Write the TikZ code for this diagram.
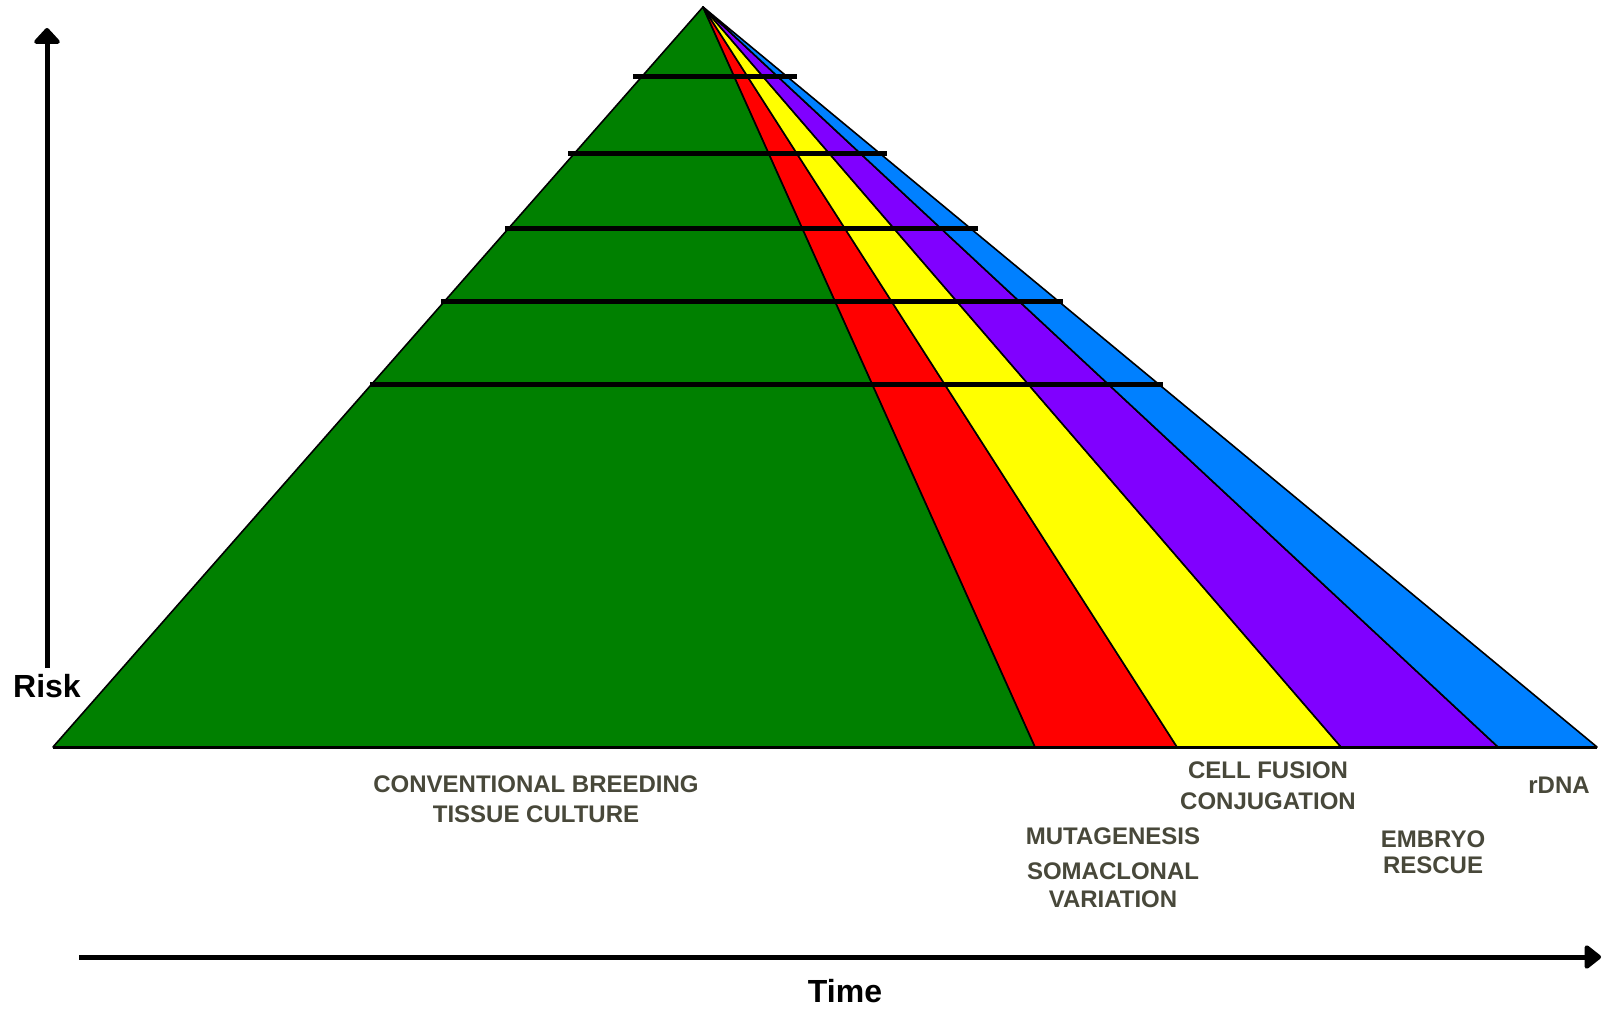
\documentclass[tikz,border=0pt]{standalone}
\usepackage{fontspec}
\setmainfont{Liberation Sans}
\usetikzlibrary{arrows.meta}
\definecolor{cgreen}{RGB}{0,128,0}
\definecolor{cred}{RGB}{255,0,0}
\definecolor{cyellow}{RGB}{255,255,0}
\definecolor{cpurple}{RGB}{128,0,255}
\definecolor{cblue}{RGB}{0,128,255}
\definecolor{labelgray}{RGB}{72,72,58}
\tikzset{
  band/.style={draw=black, line width=1.6pt, line join=round},
  rung/.style={draw=black, line width=5pt},
  axis/.style={draw=black, line width=5pt},
  lbl/.style={text=labelgray, font=\fontsize{24}{26}\selectfont\bfseries, align=center, inner sep=0pt},
  axlbl/.style={text=black, font=\fontsize{32}{34}\selectfont\bfseries, inner sep=0pt},
}
\begin{document}
\begin{tikzpicture}[x=1pt,y=-1pt]
\useasboundingbox[fill=white] (0,0) rectangle (1602,1010);
% corners
\coordinate (apex) at (703,7);
\coordinate (L) at (53,747);
\coordinate (b1) at (1035,747);
\coordinate (b2) at (1177,747);
\coordinate (b3) at (1341,747);
\coordinate (b4) at (1498,747);
\coordinate (R) at (1597,747);
% bands
\path[band, fill=cgreen] (apex) -- (L) -- (b1) -- cycle;
\path[band, fill=cred] (apex) -- (b1) -- (b2) -- cycle;
\path[band, fill=cyellow] (apex) -- (b2) -- (b3) -- cycle;
\path[band, fill=cpurple] (apex) -- (b3) -- (b4) -- cycle;
\path[band, fill=cblue] (apex) -- (b4) -- (R) -- cycle;
\draw[black, line width=3pt] (L) -- (R);
% rungs
\coordinate (r1a) at (633,76);  \coordinate (r1b) at (797,76);
\coordinate (r2a) at (568,153); \coordinate (r2b) at (887,153);
\coordinate (r3a) at (505,228); \coordinate (r3b) at (978,228);
\coordinate (r4a) at (441,301); \coordinate (r4b) at (1063,301);
\coordinate (r5a) at (370,384); \coordinate (r5b) at (1163,384);
\draw[rung] (r1a) -- (r1b);
\draw[rung] (r2a) -- (r2b);
\draw[rung] (r3a) -- (r3b);
\draw[rung] (r4a) -- (r4b);
\draw[rung] (r5a) -- (r5b);
% axes
\coordinate (ybot) at (47,668);
\coordinate (ytop) at (47,28);
\coordinate (xleft) at (79,957);
\coordinate (xright) at (1601,957);
\draw[axis, -{Triangle[length=17pt,width=30pt,round]}] (ybot) -- (ytop);
\draw[axis, -{Triangle[length=18pt,width=27pt,round]}] (xleft) -- (xright);
\node[axlbl] (risk) at (47,686) {Risk};
\node[axlbl] (time) at (845,991) {Time};
% labels
\node[lbl] (conv) at (536,799) {CONVENTIONAL BREEDING\\[4pt]TISSUE CULTURE};
\node[lbl] (cell) at (1268,786) {CELL FUSION\\[5pt]CONJUGATION};
\node[lbl] (rdna) at (1559,785) {rDNA};
\node[lbl] (muta) at (1113,836) {MUTAGENESIS};
\node[lbl] (soma) at (1113,885) {SOMACLONAL\\[2pt]VARIATION};
\node[lbl] (embr) at (1433,852) {EMBRYO\\[0pt]RESCUE};
\end{tikzpicture}
\end{document}
